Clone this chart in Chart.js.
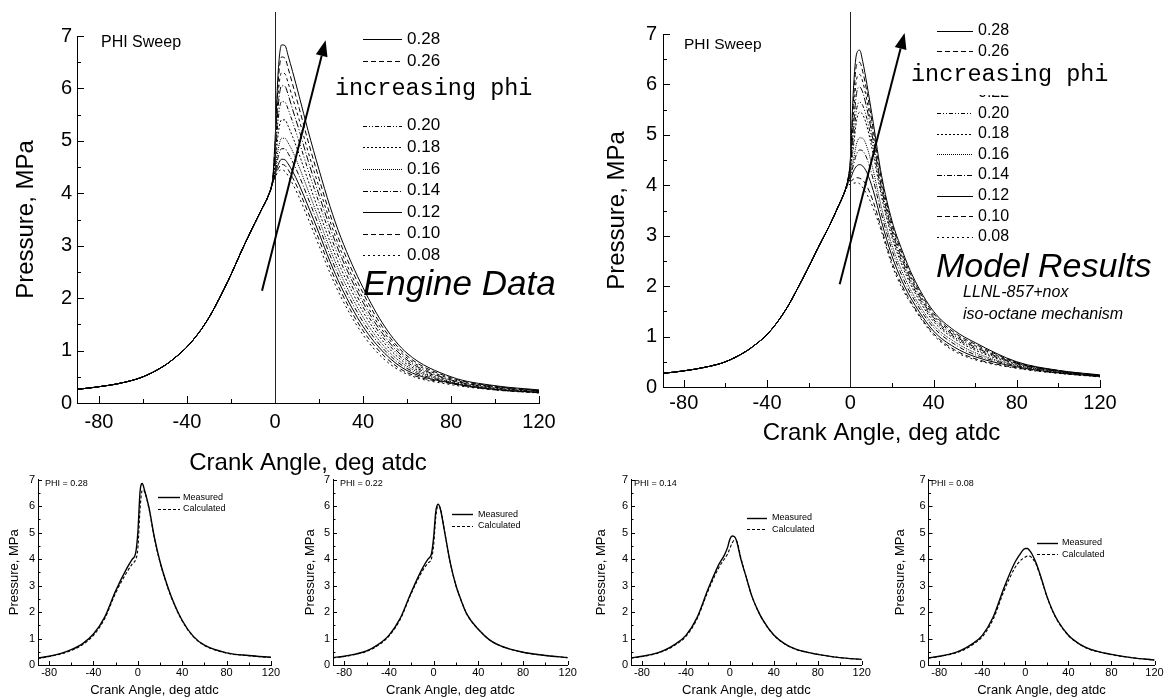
<!DOCTYPE html>
<html>
<head>
<meta charset="utf-8">
<title>PHI sweep pressure traces</title>
<script src="https://cdn.jsdelivr.net/npm/chart.js@4.4.1/dist/chart.umd.min.js"></script>
<style>
  body { margin: 0; background: #fff; }
  #wrap { position: relative; width: 1166px; height: 698px; overflow: hidden; background: #fff; }
  canvas { position: absolute; }
</style>
</head>
<body>
<div id="wrap">
  <canvas id="engine" width="580" height="480" style="left:0;top:0"></canvas>
  <canvas id="model" width="586" height="450" style="left:580px;top:0"></canvas>
  <canvas id="p28" width="290" height="228" style="left:0;top:470px"></canvas>
  <canvas id="p22" width="290" height="228" style="left:290px;top:470px"></canvas>
  <canvas id="p14" width="300" height="228" style="left:580px;top:470px"></canvas>
  <canvas id="p08" width="296" height="228" style="left:870px;top:470px"></canvas>
</div>
<script>
var FONT = "'Liberation Sans', Arial, sans-serif";
var MONO = "'Liberation Mono', 'Courier New', monospace";

// axis ticks
var xMajor = [-80, -40, 0, 40, 80, 120];
var xMinor = [-60, -20, 20, 60, 100];
var yMajor = [0, 1, 2, 3, 4, 5, 6, 7];
var yMinor = [0.5, 1.5, 2.5, 3.5, 4.5, 5.5, 6.5];

// top charts: phi sweep
var phiLabels = ['0.28', '0.26', '0.24', '0.22', '0.20', '0.18', '0.16', '0.14', '0.12', '0.10', '0.08'];
var phiDash = [[], [5, 3], [3, 3], [7, 2, 1, 2], [4, 2, 1, 2, 1, 2], [2, 2], [1, 1], [5, 2, 1, 2], [], [5, 3], [2, 3]];

// compression stroke (same for every phi) and the part after ignition
var compAngle = [-90, -80, -70, -60, -50, -45, -40, -35, -30, -25, -20, -15, -10, -6, -3];
var hotAngle = [-1, 0, 1.5, 3, 4.5, 6, 8, 11, 15, 20, 25, 30, 40, 50, 60, 80, 100, 120];

var engComp = [0.26, 0.31, 0.38, 0.50, 0.72, 0.88, 1.07, 1.32, 1.63, 2.02, 2.45, 2.92, 3.36, 3.70, 3.96];
var eng28 = [4.30, 5.00, 6.35, 6.83, 6.82, 6.62, 6.32, 5.85, 5.20, 4.45, 3.75, 3.15, 2.20, 1.45, 0.95, 0.50, 0.33, 0.25];
var eng26 = [4.28, 4.90, 6.15, 6.60, 6.58, 6.38, 6.08, 5.62, 5.00, 4.28, 3.60, 3.02, 2.10, 1.38, 0.90, 0.48, 0.32, 0.24];
var eng24 = [4.27, 4.80, 5.92, 6.30, 6.28, 6.10, 5.82, 5.40, 4.80, 4.12, 3.47, 2.90, 2.00, 1.32, 0.86, 0.46, 0.31, 0.235];
var eng22 = [4.26, 4.70, 5.68, 6.05, 6.04, 5.88, 5.60, 5.20, 4.63, 3.97, 3.35, 2.80, 1.92, 1.26, 0.82, 0.44, 0.30, 0.23];
var eng20 = [4.25, 4.60, 5.43, 5.75, 5.74, 5.60, 5.36, 4.98, 4.45, 3.82, 3.22, 2.68, 1.83, 1.20, 0.78, 0.43, 0.29, 0.22];
var eng18 = [4.24, 4.50, 5.15, 5.40, 5.40, 5.28, 5.08, 4.74, 4.25, 3.65, 3.08, 2.56, 1.74, 1.13, 0.74, 0.41, 0.28, 0.215];
var eng16 = [4.23, 4.42, 4.85, 5.05, 5.05, 4.96, 4.80, 4.50, 4.06, 3.50, 2.94, 2.44, 1.64, 1.06, 0.70, 0.40, 0.27, 0.21];
var eng14 = [4.22, 4.38, 4.70, 4.85, 4.85, 4.76, 4.60, 4.33, 3.91, 3.37, 2.82, 2.33, 1.55, 1.00, 0.66, 0.39, 0.26, 0.205];
var eng12 = [4.21, 4.35, 4.55, 4.65, 4.64, 4.56, 4.42, 4.16, 3.76, 3.24, 2.70, 2.22, 1.46, 0.94, 0.62, 0.38, 0.26, 0.20];
var eng10 = [4.20, 4.32, 4.47, 4.55, 4.53, 4.45, 4.30, 4.04, 3.64, 3.12, 2.59, 2.12, 1.38, 0.88, 0.58, 0.37, 0.25, 0.195];
var eng08 = [4.20, 4.30, 4.41, 4.45, 4.42, 4.33, 4.18, 3.92, 3.52, 3.00, 2.48, 2.02, 1.30, 0.82, 0.55, 0.35, 0.25, 0.19];

var modComp = [0.27, 0.32, 0.39, 0.50, 0.71, 0.86, 1.04, 1.29, 1.60, 1.98, 2.38, 2.80, 3.20, 3.56, 3.84];
var mod28 = [4.15, 4.50, 5.90, 6.60, 6.68, 6.45, 6.00, 5.25, 4.20, 3.30, 2.70, 2.20, 1.50, 1.12, 0.88, 0.50, 0.33, 0.24];
var mod26 = [4.14, 4.45, 5.65, 6.38, 6.44, 6.25, 5.85, 5.12, 4.12, 3.24, 2.64, 2.15, 1.46, 1.08, 0.85, 0.49, 0.325, 0.235];
var mod24 = [4.13, 4.40, 5.40, 6.10, 6.20, 6.05, 5.68, 5.00, 4.03, 3.17, 2.58, 2.10, 1.42, 1.05, 0.82, 0.48, 0.32, 0.23];
var mod22 = [4.12, 4.36, 5.15, 5.82, 5.95, 5.84, 5.52, 4.88, 3.95, 3.10, 2.52, 2.05, 1.38, 1.02, 0.79, 0.47, 0.315, 0.228];
var mod20 = [4.11, 4.32, 4.90, 5.50, 5.65, 5.58, 5.32, 4.74, 3.86, 3.03, 2.46, 2.00, 1.34, 0.99, 0.76, 0.46, 0.31, 0.225];
var mod18 = [4.10, 4.28, 4.75, 5.28, 5.45, 5.40, 5.17, 4.62, 3.78, 2.97, 2.40, 1.95, 1.30, 0.96, 0.73, 0.45, 0.305, 0.222];
var mod16 = [4.08, 4.22, 4.50, 4.82, 4.94, 4.93, 4.76, 4.30, 3.56, 2.82, 2.28, 1.85, 1.23, 0.90, 0.68, 0.43, 0.30, 0.218];
var mod14 = [4.07, 4.18, 4.40, 4.62, 4.70, 4.68, 4.53, 4.12, 3.43, 2.72, 2.19, 1.78, 1.18, 0.85, 0.64, 0.42, 0.29, 0.214];
var mod12 = [4.05, 4.12, 4.28, 4.38, 4.41, 4.38, 4.25, 3.90, 3.28, 2.60, 2.09, 1.70, 1.11, 0.79, 0.60, 0.40, 0.28, 0.21];
var mod10 = [4.03, 4.07, 4.12, 4.15, 4.14, 4.10, 3.98, 3.68, 3.14, 2.48, 2.00, 1.63, 1.06, 0.74, 0.56, 0.38, 0.275, 0.205];
var mod08 = [4.00, 4.02, 4.04, 4.05, 4.03, 3.95, 3.82, 3.55, 3.08, 2.42, 1.95, 1.60, 1.03, 0.71, 0.54, 0.37, 0.27, 0.20];

// bottom charts: measured vs calculated
var bAngle = [-90, -80, -70, -60, -50, -40, -30, -20, -10, -5, -2, 0, 2, 4, 6, 10, 15, 20, 25, 30, 40, 50, 60, 80, 100, 120];
var meas28 = [0.26, 0.33, 0.43, 0.58, 0.80, 1.17, 1.80, 2.80, 3.65, 4.00, 4.22, 5.00, 6.55, 6.85, 6.60, 5.95, 4.80, 3.90, 3.20, 2.60, 1.68, 1.08, 0.75, 0.46, 0.36, 0.29];
var calc28 = [0.25, 0.32, 0.41, 0.55, 0.76, 1.12, 1.74, 2.72, 3.50, 3.82, 3.98, 4.40, 5.90, 6.60, 6.55, 5.90, 4.77, 3.87, 3.17, 2.57, 1.66, 1.07, 0.74, 0.45, 0.35, 0.28];
var meas22 = [0.28, 0.33, 0.41, 0.53, 0.76, 1.12, 1.75, 2.75, 3.65, 4.00, 4.18, 4.80, 5.80, 6.07, 5.90, 5.00, 3.85, 3.00, 2.40, 1.90, 1.35, 0.95, 0.72, 0.48, 0.36, 0.28];
var calc22 = [0.27, 0.32, 0.40, 0.51, 0.73, 1.09, 1.71, 2.70, 3.55, 3.85, 4.00, 4.50, 5.60, 6.00, 5.92, 5.00, 3.85, 3.00, 2.40, 1.90, 1.35, 0.95, 0.72, 0.48, 0.36, 0.28];
var meas14 = [0.27, 0.33, 0.41, 0.55, 0.78, 1.12, 1.78, 2.85, 3.80, 4.15, 4.45, 4.75, 4.87, 4.85, 4.70, 4.00, 3.30, 2.60, 2.10, 1.70, 1.13, 0.80, 0.60, 0.40, 0.28, 0.21];
var calc14 = [0.26, 0.32, 0.40, 0.53, 0.75, 1.08, 1.73, 2.78, 3.68, 4.00, 4.20, 4.40, 4.60, 4.70, 4.68, 4.05, 3.30, 2.60, 2.10, 1.69, 1.12, 0.79, 0.59, 0.40, 0.28, 0.21];
var meas08 = [0.27, 0.33, 0.41, 0.55, 0.78, 1.12, 1.80, 2.90, 3.85, 4.18, 4.35, 4.40, 4.40, 4.32, 4.20, 3.85, 3.25, 2.60, 2.08, 1.68, 1.12, 0.80, 0.60, 0.40, 0.27, 0.19];
var calc08 = [0.26, 0.32, 0.40, 0.52, 0.74, 1.07, 1.72, 2.78, 3.65, 3.93, 4.03, 4.08, 4.11, 4.11, 4.05, 3.80, 3.22, 2.58, 2.06, 1.66, 1.11, 0.79, 0.59, 0.39, 0.27, 0.19];

function makePoints(angles, vals) {
  return angles.map(function (a, i) { return { x: a, y: vals[i] }; });
}

function sweepSets(comp, tails) {
  return tails.map(function (tail, i) {
    return {
      label: phiLabels[i],
      data: makePoints(compAngle, comp).concat(makePoints(hotAngle, tail)),
      borderColor: '#000', borderWidth: 1, borderDash: phiDash[i],
      pointRadius: 0, fill: false, cubicInterpolationMode: 'monotone'
    };
  });
}

function pairSets(meas, calc) {
  return [
    { label: 'Measured', data: makePoints(bAngle, meas), borderColor: '#000', borderWidth: 1.4,
      borderDash: [], pointRadius: 0, fill: false, cubicInterpolationMode: 'monotone' },
    { label: 'Calculated', data: makePoints(bAngle, calc), borderColor: '#000', borderWidth: 1.1,
      borderDash: [3, 2], pointRadius: 0, fill: false, cubicInterpolationMode: 'monotone' }
  ];
}

// inward ticks, x=0 line, in-plot legend, notes and the arrow
var decor = {
  id: 'decor',
  afterDraw: function (chart, args, o) {
    var ctx = chart.ctx, x = chart.scales.x, y = chart.scales.y;
    ctx.save();
    ctx.strokeStyle = '#000';
    ctx.lineWidth = 1;
    ctx.setLineDash([]);
    ctx.beginPath();
    xMajor.forEach(function (v) {
      var px = Math.round(x.getPixelForValue(v)) + 0.5;
      ctx.moveTo(px, y.bottom); ctx.lineTo(px, y.bottom - o.major);
    });
    xMinor.forEach(function (v) {
      var px = Math.round(x.getPixelForValue(v)) + 0.5;
      ctx.moveTo(px, y.bottom); ctx.lineTo(px, y.bottom - o.minor);
    });
    yMajor.forEach(function (v) {
      var py = Math.round(y.getPixelForValue(v)) + 0.5;
      ctx.moveTo(x.left, py); ctx.lineTo(x.left + o.major, py);
    });
    yMinor.forEach(function (v) {
      var py = Math.round(y.getPixelForValue(v)) + 0.5;
      ctx.moveTo(x.left, py); ctx.lineTo(x.left + o.minor, py);
    });
    ctx.stroke();

    if (o.zeroTop !== undefined) {
      var zx = Math.round(x.getPixelForValue(0)) + 0.5;
      ctx.strokeStyle = '#222';
      ctx.beginPath(); ctx.moveTo(zx, o.zeroTop); ctx.lineTo(zx, y.bottom); ctx.stroke();
    }

    if (o.legend) {
      var L = o.legend;
      chart.data.datasets.forEach(function (ds, i) {
        var yy = L.y0 + i * L.dy;
        ctx.strokeStyle = '#000';
        ctx.lineWidth = ds.borderWidth;
        ctx.setLineDash(ds.borderDash || []);
        ctx.beginPath(); ctx.moveTo(L.x1, Math.round(yy) + 0.5); ctx.lineTo(L.x2, Math.round(yy) + 0.5); ctx.stroke();
        ctx.setLineDash([]);
        ctx.fillStyle = '#000';
        ctx.font = L.font;
        ctx.textAlign = 'left';
        ctx.textBaseline = 'middle';
        ctx.fillText(ds.label, L.xt, yy);
      });
    }

    (o.notes || []).forEach(function (t) {
      if (t.box) {
        ctx.fillStyle = '#fff';
        ctx.fillRect(t.box[0], t.box[1], t.box[2], t.box[3]);
      }
      ctx.fillStyle = '#000';
      ctx.font = t.font;
      ctx.textAlign = 'left';
      ctx.textBaseline = 'middle';
      ctx.fillText(t.text, t.x, t.y);
    });

    if (o.arrow) {
      var a = o.arrow;
      var x0 = x.getPixelForValue(a.from[0]), y0 = y.getPixelForValue(a.from[1]);
      var x1 = x.getPixelForValue(a.to[0]), y1 = y.getPixelForValue(a.to[1]);
      var ang = Math.atan2(y1 - y0, x1 - x0);
      var hl = 16, hw = 6;
      var bx = x1 - hl * Math.cos(ang), by = y1 - hl * Math.sin(ang);
      ctx.strokeStyle = '#000';
      ctx.lineWidth = 2;
      ctx.beginPath(); ctx.moveTo(x0, y0); ctx.lineTo(bx, by); ctx.stroke();
      ctx.fillStyle = '#000';
      ctx.beginPath();
      ctx.moveTo(x1, y1);
      ctx.lineTo(bx + hw * Math.sin(ang), by - hw * Math.cos(ang));
      ctx.lineTo(bx - hw * Math.sin(ang), by + hw * Math.cos(ang));
      ctx.closePath();
      ctx.fill();
    }
    ctx.restore();
  }
};

function scalesFor(s) {
  return {
    x: {
      type: 'linear', min: -90, max: 120,
      afterBuildTicks: function (sc) { sc.ticks = xMajor.map(function (v) { return { value: v }; }); },
      afterFit: function (sc) { sc.height = s.xh; },
      grid: { display: true, drawOnChartArea: false, drawTicks: false },
      border: { display: true, color: '#000', width: 1 },
      ticks: { color: '#000', font: { family: FONT, size: s.tick }, padding: s.xpad, maxRotation: 0, autoSkip: false },
      title: { display: true, text: 'Crank Angle, deg atdc', color: '#000',
               font: { family: FONT, size: s.title }, padding: { top: 0, bottom: s.xtp } }
    },
    y: {
      type: 'linear', min: 0, max: 7,
      afterFit: function (sc) { sc.width = s.yw; },
      grid: { display: true, drawOnChartArea: false, drawTicks: false },
      border: { display: true, color: '#000', width: 1 },
      ticks: { stepSize: 1, color: '#000', font: { family: FONT, size: s.tick }, padding: s.ypad },
      title: { display: true, text: 'Pressure, MPa', color: '#000',
               font: { family: FONT, size: s.title }, padding: { top: s.ytp, bottom: 0 } }
    }
  };
}

function draw(id, datasets, s, deco) {
  new Chart(document.getElementById(id), {
    type: 'line',
    data: { datasets: datasets },
    plugins: [decor],
    options: {
      responsive: false,
      animation: false,
      layout: { padding: { left: 0, top: s.top, right: s.right, bottom: 0 } },
      scales: scalesFor(s),
      plugins: { legend: { display: false }, tooltip: { enabled: false }, decor: deco }
    }
  });
}

// Engine Data
draw('engine',
  sweepSets(engComp, [eng28, eng26, eng24, eng22, eng20, eng18, eng16, eng14, eng12, eng10, eng08]),
  { top: 36, right: 41, xh: 77, yw: 77, tick: 20, title: 24, xpad: 7, ypad: 5, xtp: 2.6, ytp: 12.3 },
  { major: 7, minor: 4, zeroTop: 12,
    legend: { x1: 363, x2: 402, xt: 407, y0: 39.3, dy: 21.6, font: '17px ' + FONT },
    notes: [
      { text: 'PHI Sweep', x: 101, y: 43, font: '16px ' + FONT },
      { text: 'increasing phi', x: 335, y: 89, font: '23.5px ' + MONO, box: [330, 75, 207, 39] },
      { text: 'Engine Data', x: 363, y: 285, font: 'italic 35px ' + FONT }
    ],
    arrow: { from: [-5.9, 2.14], to: [23, 6.92] } });

// Model Results
draw('model',
  sweepSets(modComp, [mod28, mod26, mod24, mod22, mod20, mod18, mod16, mod14, mod12, mod10, mod08]),
  { top: 34, right: 66, xh: 63, yw: 83, tick: 20, title: 24, xpad: 4, ypad: 6, xtp: 2.6, ytp: 22.6 },
  { major: 7, minor: 4, zeroTop: 12,
    legend: { x1: 357, x2: 393, xt: 398, y0: 30.7, dy: 20.6, font: '16px ' + FONT },
    notes: [
      { text: 'PHI Sweep', x: 104, y: 45, font: '15.5px ' + FONT },
      { text: 'increasing phi', x: 331, y: 75, font: '23.5px ' + MONO, box: [326, 60, 206, 35] },
      { text: 'Model Results', x: 356, y: 268, font: 'italic 34px ' + FONT },
      { text: 'LLNL-857+nox', x: 383, y: 293, font: 'italic 16px ' + FONT },
      { text: 'iso-octane mechanism', x: 383, y: 315, font: 'italic 16px ' + FONT }
    ],
    arrow: { from: [-5.1, 2.04], to: [26.1, 7.02] } });

// bottom row
var smallFont = '9px ' + FONT;
function smallDeco(phi, px, lx1, lx2, lxt, ly0) {
  return { major: 4, minor: 2.5,
    legend: { x1: lx1, x2: lx2, xt: lxt, y0: ly0, dy: 11.7, font: smallFont },
    notes: [{ text: 'PHI = ' + phi, x: px, y: 14, font: smallFont }] };
}

draw('p28', pairSets(meas28, calc28),
  { top: 8, right: 19, xh: 33, yw: 38, tick: 11, title: 13, xpad: 1.5, ypad: 3, xtp: 0.2, ytp: 6.2 },
  smallDeco('0.28', 45, 158, 180, 183, 27.3));
draw('p22', pairSets(meas22, calc22),
  { top: 7, right: 12.3, xh: 33, yw: 43, tick: 11, title: 13, xpad: 1.5, ypad: 3, xtp: 0.2, ytp: 12.2 },
  smallDeco('0.22', 50, 162, 183, 188, 44.3));
draw('p14', pairSets(meas14, calc14),
  { top: 8, right: 18.3, xh: 33, yw: 51, tick: 11, title: 13, xpad: 1.5, ypad: 3, xtp: 0.2, ytp: 13.9 },
  smallDeco('0.14', 54, 167, 187, 192, 47.7));
draw('p08', pairSets(meas08, calc08),
  { top: 8, right: 11.5, xh: 33, yw: 58.5, tick: 11, title: 13, xpad: 1.5, ypad: 3, xtp: 0.2, ytp: 22.2 },
  smallDeco('0.08', 61, 167, 188, 192, 72.7));
</script>
</body>
</html>
